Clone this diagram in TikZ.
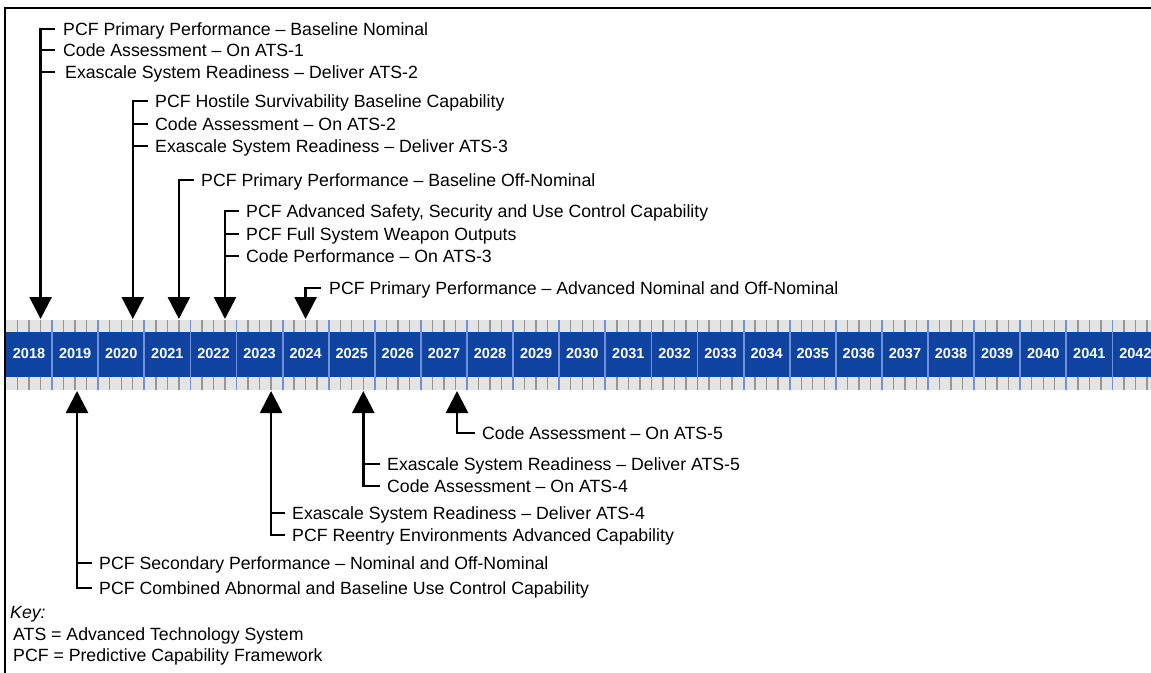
\documentclass[tikz,border=0pt]{standalone}
\usepackage{fontspec}
\setmainfont{Liberation Sans}
\usetikzlibrary{arrows.meta}
\definecolor{barblue}{RGB}{14,68,160}
\definecolor{bandgray}{RGB}{228,228,228}
\definecolor{tickgray}{RGB}{150,150,150}
\definecolor{divblue}{RGB}{115,145,214}
\begin{document}
\begin{tikzpicture}[x=1bp,y=-1bp,
  lbl/.style={anchor=west, inner sep=0pt, font=\fontsize{17.7bp}{20bp}\selectfont, text height=12.6bp, text depth=0pt},
  keytxt/.style={lbl},
  conn/.style={line width=2.6bp, black},
  arr/.style={conn, -{Triangle[width=22bp,length=22bp]}},
  yr/.style={text=white, font=\bfseries\fontsize{14.5bp}{16bp}\selectfont, inner sep=0pt},
  tick/.style={tickgray, line width=1.4bp},
  divider/.style={divblue, line width=1.8bp},
  frame/.style={line width=2.4bp, black},
]
\useasboundingbox (0,0) rectangle (1151,673);
% frame
\draw[frame] (1151,8) -- (5,8) -- (5,673);
% timeline bar
\begin{scope}
\clip (0,0) rectangle (1151,673);
\fill[bandgray] (6,320) rectangle (1151,390);
\fill[barblue] (6,331.5) rectangle (1151,377);
\foreach \k in {0,...,24} {
  \foreach \j in {1,2,3} {
    \draw[tick] ({6+46.1*(\k+\j/4)},320) -- ++(0,11.5);
    \draw[tick] ({6+46.1*(\k+\j/4)},377) -- ++(0,13);
  }
}
\foreach \k in {1,...,24} \draw[divider] ({6+46.1*\k},320) -- ++(0,70);
\end{scope}
\foreach \k in {0,...,24} {
  \pgfmathtruncatemacro{\yy}{2018+\k}
  \node[yr] (yr\yy) at ({6+46.1*(\k+0.5)},354) {\yy};
}
% arrow tip coordinates
\coordinate (d2018) at (40.6,319);
\coordinate (d2020) at (132.8,319);
\coordinate (d2021) at (178.9,319);
\coordinate (d2022) at (225.0,319);
\coordinate (d2024) at (305.6,319);
\coordinate (u2019) at (77,391);
\coordinate (u2023) at (271.1,391);
\coordinate (u2025) at (363.3,391);
\coordinate (u2027) at (457,391);
% group 2018
\node[lbl] (a1) at (63,29) {PCF Primary Performance – Baseline Nominal};
\node[lbl] (a2) at (63,50) {Code Assessment – On ATS-1};
\node[lbl] (a3) at (65,72) {Exascale System Readiness – Deliver ATS-2};
\draw[arr] ([xshift=-8bp]a1.west) -| (d2018);
\draw[conn] ([xshift=-8bp]a2.west) -- (a2.west -| d2018);
\draw[conn] ([xshift=-10bp]a3.west) -- (a3.west -| d2018);
% group 2020
\node[lbl] (b1) at (155,101) {PCF Hostile Survivability Baseline Capability};
\node[lbl] (b2) at (155,124) {Code Assessment – On ATS-2};
\node[lbl] (b3) at (155,146) {Exascale System Readiness – Deliver ATS-3};
\draw[arr] ([xshift=-7bp]b1.west) -| (d2020);
\draw[conn] ([xshift=-7bp]b2.west) -- (b2.west -| d2020);
\draw[conn] ([xshift=-7bp]b3.west) -- (b3.west -| d2020);
% group 2021
\node[lbl] (c1) at (201,180) {PCF Primary Performance – Baseline Off-Nominal};
\draw[arr] ([xshift=-7bp]c1.west) -| (d2021);
% group 2022
\node[lbl] (e1) at (246,211) {PCF Advanced Safety, Security and Use Control Capability};
\node[lbl] (e2) at (246,234) {PCF Full System Weapon Outputs};
\node[lbl] (e3) at (246,256) {Code Performance – On ATS-3};
\draw[arr] ([xshift=-7bp]e1.west) -| (d2022);
\draw[conn] ([xshift=-7bp]e2.west) -- (e2.west -| d2022);
\draw[conn] ([xshift=-7bp]e3.west) -- (e3.west -| d2022);
% group 2024
\node[lbl] (f1) at (329,288) {PCF Primary Performance – Advanced Nominal and Off-Nominal};
\draw[arr] ([xshift=-8bp]f1.west) -| (d2024);
% group 2027
\node[lbl] (g1) at (482,433) {Code Assessment – On ATS-5};
\draw[arr] ([xshift=-7bp]g1.west) -| (u2027);
% group 2025
\node[lbl] (h1) at (387,464) {Exascale System Readiness – Deliver ATS-5};
\node[lbl] (h2) at (387,486) {Code Assessment – On ATS-4};
\draw[conn] ([xshift=-7bp]h1.west) -- (h1.west -| u2025);
\draw[arr] ([xshift=-7bp]h2.west) -| (u2025);
% group 2023
\node[lbl] (i1) at (292,513) {Exascale System Readiness – Deliver ATS-4};
\node[lbl] (i2) at (292,535) {PCF Reentry Environments Advanced Capability};
\draw[conn] ([xshift=-7bp]i1.west) -- (i1.west -| u2023);
\draw[arr] ([xshift=-7bp]i2.west) -| (u2023);
% group 2019
\node[lbl] (j1) at (99,563) {PCF Secondary Performance – Nominal and Off-Nominal};
\node[lbl] (j2) at (99,588) {PCF Combined Abnormal and Baseline Use Control Capability};
\draw[conn] ([xshift=-7bp]j1.west) -- (j1.west -| u2019);
\draw[arr] ([xshift=-7bp]j2.west) -| (u2019);
% key
\node[keytxt, font=\itshape\fontsize{17.7bp}{20bp}\selectfont] (k0) at (10,612) {Key:};
\node[keytxt] (k1) at (13,634) {ATS = Advanced Technology System};
\node[keytxt] (k2) at (13,655) {PCF = Predictive Capability Framework};
\end{tikzpicture}
\end{document}
